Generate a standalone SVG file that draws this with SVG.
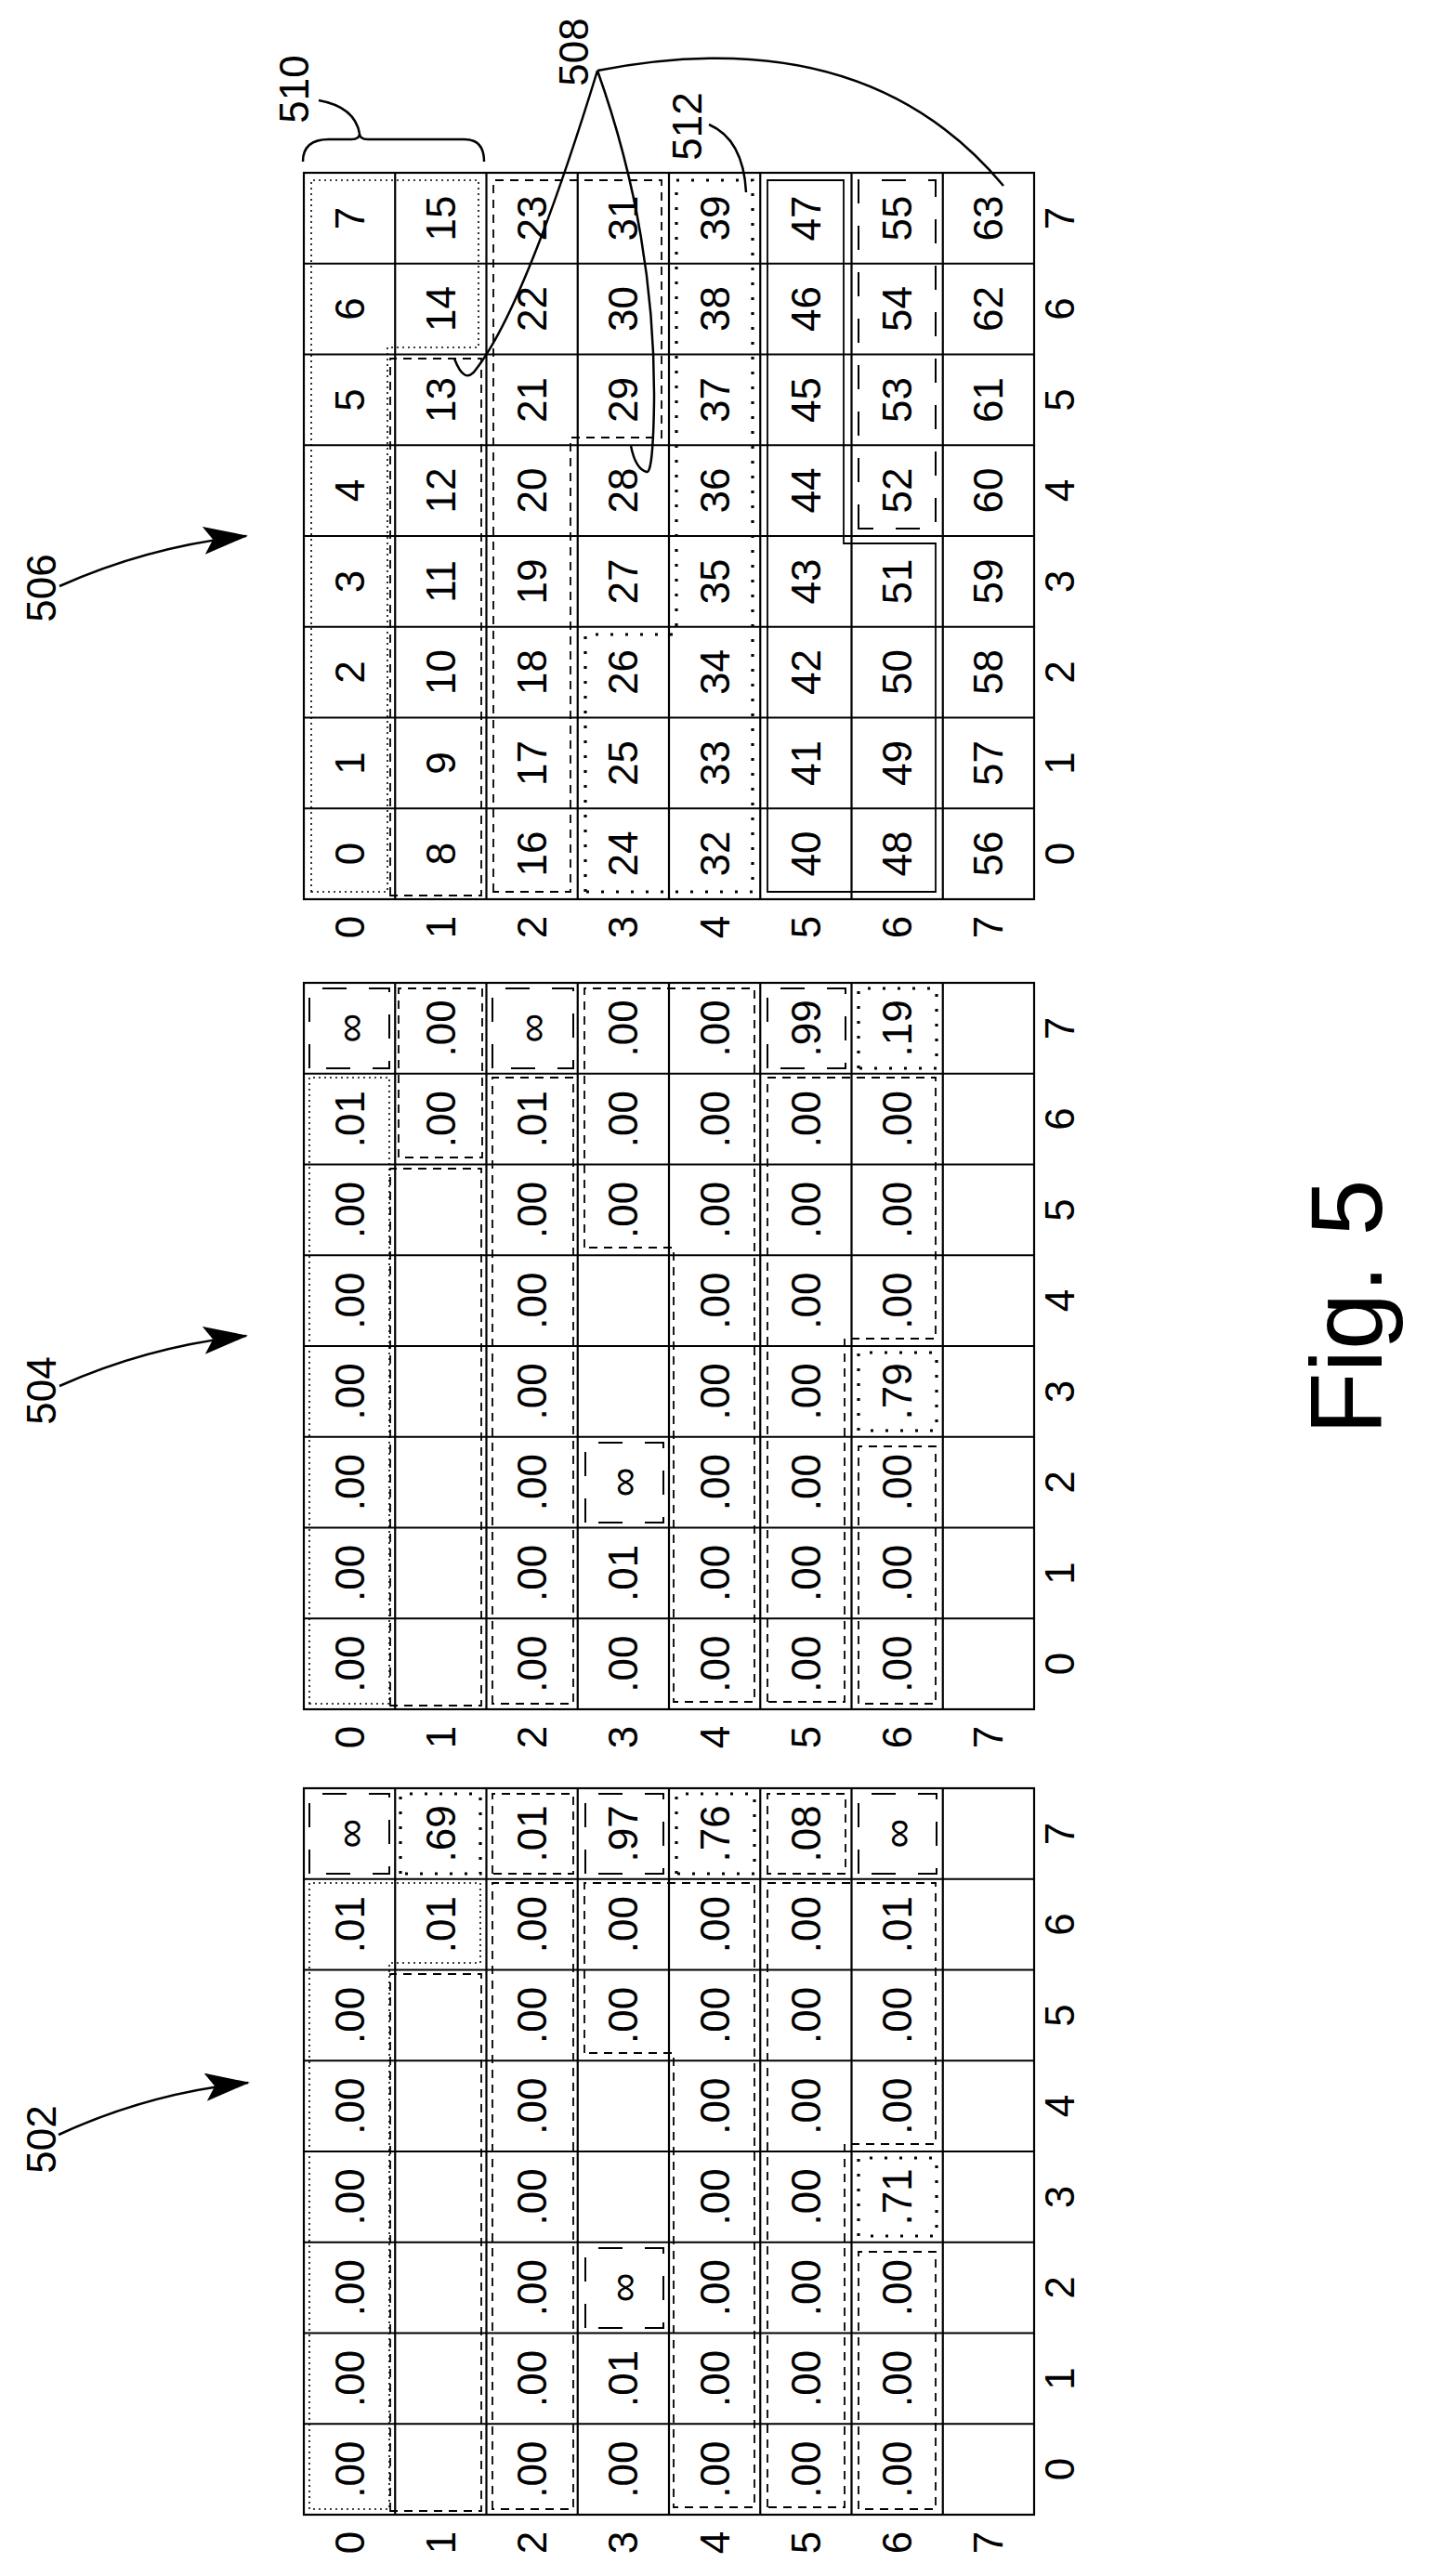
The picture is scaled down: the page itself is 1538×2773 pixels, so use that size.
<svg xmlns="http://www.w3.org/2000/svg" width="1538" height="2773" viewBox="0 0 1538 2773">
<style>
text{font-family:"Liberation Sans","DejaVu Sans",sans-serif;fill:#000}
.t{font-size:44px;text-anchor:middle;dominant-baseline:central}
.l{font-size:44px;text-anchor:middle;dominant-baseline:central}
.grid{fill:none;stroke:#000;stroke-width:2.2}
.o{fill:none;stroke:#000}
.dt{stroke-width:1.6;stroke-dasharray:2 4}
.dd{stroke-width:1.8;stroke-dasharray:9 7}
.dh{stroke-width:3.2;stroke-dasharray:3 13}
.ld{stroke-width:2;stroke-dasharray:26 24}
.sl{stroke-width:1.8}
.cn{fill:none;stroke:#000;stroke-width:2.5}
</style>
<defs>
<marker id="ah" viewBox="0 0 48 30" refX="46" refY="15" markerWidth="48" markerHeight="30" markerUnits="userSpaceOnUse" orient="auto">
<path d="M0,0 L48,15 L0,30 L10,15 Z" fill="#000"/>
</marker>
<g id="gridlines">
<rect x="0" y="0" width="782" height="786" class="grid"/>
<path class="grid" d="M97.75,0V786M195.5,0V786M293.25,0V786M391,0V786M488.75,0V786M586.5,0V786M684.25,0V786M0,98.25H782M0,196.5H782M0,294.75H782M0,393H782M0,491.25H782M0,589.5H782M0,687.75H782"/>
</g>
<g id="labels">
<text class="l" x="48.9" y="813">0</text><text class="l" x="146.6" y="813">1</text><text class="l" x="244.4" y="813">2</text><text class="l" x="342.1" y="813">3</text><text class="l" x="439.9" y="813">4</text><text class="l" x="537.6" y="813">5</text><text class="l" x="635.4" y="813">6</text><text class="l" x="733.1" y="813">7</text>
<text class="l" x="-30" y="49.1">0</text><text class="l" x="-30" y="147.4">1</text><text class="l" x="-30" y="245.6">2</text><text class="l" x="-30" y="343.9">3</text><text class="l" x="-30" y="442.1">4</text><text class="l" x="-30" y="540.4">5</text><text class="l" x="-30" y="638.6">6</text><text class="l" x="-30" y="736.9">7</text>
</g>
</defs>

<g id="grid506" transform="translate(327,968) rotate(-90)">
<use href="#gridlines"/><use href="#labels"/>
<polygon class="o dt" points="8,8 774,8 774,188 594,188 594,90 8,90"/>
<rect class="o dd" x="4" y="93" width="578" height="98"/>
<polygon class="o dd" points="8,204 774,204 774,385 497,385 497,287 8,287"/>
<polygon class="o dh" points="8,303 285,303 285,401 774,401 774,483 8,483"/>
<polygon class="o sl" points="8,499 774,499 774,581 383,581 383,680 8,680"/>
<rect class="o ld" x="399" y="597" width="375" height="83"/>
<text class="t" x="48.9" y="49.1">0</text><text class="t" x="146.6" y="49.1">1</text><text class="t" x="244.4" y="49.1">2</text><text class="t" x="342.1" y="49.1">3</text><text class="t" x="439.9" y="49.1">4</text><text class="t" x="537.6" y="49.1">5</text><text class="t" x="635.4" y="49.1">6</text><text class="t" x="733.1" y="49.1">7</text>
<text class="t" x="48.9" y="147.4">8</text><text class="t" x="146.6" y="147.4">9</text><text class="t" x="244.4" y="147.4">10</text><text class="t" x="342.1" y="147.4">11</text><text class="t" x="439.9" y="147.4">12</text><text class="t" x="537.6" y="147.4">13</text><text class="t" x="635.4" y="147.4">14</text><text class="t" x="733.1" y="147.4">15</text>
<text class="t" x="48.9" y="245.6">16</text><text class="t" x="146.6" y="245.6">17</text><text class="t" x="244.4" y="245.6">18</text><text class="t" x="342.1" y="245.6">19</text><text class="t" x="439.9" y="245.6">20</text><text class="t" x="537.6" y="245.6">21</text><text class="t" x="635.4" y="245.6">22</text><text class="t" x="733.1" y="245.6">23</text>
<text class="t" x="48.9" y="343.9">24</text><text class="t" x="146.6" y="343.9">25</text><text class="t" x="244.4" y="343.9">26</text><text class="t" x="342.1" y="343.9">27</text><text class="t" x="439.9" y="343.9">28</text><text class="t" x="537.6" y="343.9">29</text><text class="t" x="635.4" y="343.9">30</text><text class="t" x="733.1" y="343.9">31</text>
<text class="t" x="48.9" y="442.1">32</text><text class="t" x="146.6" y="442.1">33</text><text class="t" x="244.4" y="442.1">34</text><text class="t" x="342.1" y="442.1">35</text><text class="t" x="439.9" y="442.1">36</text><text class="t" x="537.6" y="442.1">37</text><text class="t" x="635.4" y="442.1">38</text><text class="t" x="733.1" y="442.1">39</text>
<text class="t" x="48.9" y="540.4">40</text><text class="t" x="146.6" y="540.4">41</text><text class="t" x="244.4" y="540.4">42</text><text class="t" x="342.1" y="540.4">43</text><text class="t" x="439.9" y="540.4">44</text><text class="t" x="537.6" y="540.4">45</text><text class="t" x="635.4" y="540.4">46</text><text class="t" x="733.1" y="540.4">47</text>
<text class="t" x="48.9" y="638.6">48</text><text class="t" x="146.6" y="638.6">49</text><text class="t" x="244.4" y="638.6">50</text><text class="t" x="342.1" y="638.6">51</text><text class="t" x="439.9" y="638.6">52</text><text class="t" x="537.6" y="638.6">53</text><text class="t" x="635.4" y="638.6">54</text><text class="t" x="733.1" y="638.6">55</text>
<text class="t" x="48.9" y="736.9">56</text><text class="t" x="146.6" y="736.9">57</text><text class="t" x="244.4" y="736.9">58</text><text class="t" x="342.1" y="736.9">59</text><text class="t" x="439.9" y="736.9">60</text><text class="t" x="537.6" y="736.9">61</text><text class="t" x="635.4" y="736.9">62</text><text class="t" x="733.1" y="736.9">63</text>
</g>

<g id="grid504" transform="translate(327,1840) rotate(-90)">
<use href="#gridlines"/><use href="#labels"/>
<rect class="o dt" x="6" y="6" width="674" height="86"/>
<rect class="o ld" x="690" y="6" width="86" height="86"/>
<rect class="o dd" x="4" y="93" width="578" height="98"/>
<rect class="o dd" x="594" y="102" width="182" height="90"/>
<rect class="o dd" x="6" y="203" width="674" height="87"/>
<rect class="o ld" x="690" y="203" width="86" height="87"/>
<rect class="o ld" x="201" y="303" width="86" height="84"/>
<polygon class="o dd" points="497,302 776,302 776,485 8,485 8,398 497,398"/>
<rect class="o ld" x="690" y="499" width="86" height="84"/>
<polygon class="o dd" points="8,499 680,499 680,680 399,680 399,582 8,582"/>
<rect class="o dd" x="6" y="597" width="277" height="83"/>
<rect class="o dh" x="300" y="597" width="84" height="84"/>
<rect class="o dh" x="690" y="597" width="86" height="84"/>
<text class="t" x="48.9" y="49.1">.00</text><text class="t" x="146.6" y="49.1">.00</text><text class="t" x="244.4" y="49.1">.00</text><text class="t" x="342.1" y="49.1">.00</text><text class="t" x="439.9" y="49.1">.00</text><text class="t" x="537.6" y="49.1">.00</text><text class="t" x="635.4" y="49.1">.01</text><text class="t" x="733.1" y="49.1">∞</text>
<text class="t" x="635.4" y="147.4">.00</text><text class="t" x="733.1" y="147.4">.00</text>
<text class="t" x="48.9" y="245.6">.00</text><text class="t" x="146.6" y="245.6">.00</text><text class="t" x="244.4" y="245.6">.00</text><text class="t" x="342.1" y="245.6">.00</text><text class="t" x="439.9" y="245.6">.00</text><text class="t" x="537.6" y="245.6">.00</text><text class="t" x="635.4" y="245.6">.01</text><text class="t" x="733.1" y="245.6">∞</text>
<text class="t" x="48.9" y="343.9">.00</text><text class="t" x="146.6" y="343.9">.01</text><text class="t" x="244.4" y="343.9">∞</text><text class="t" x="537.6" y="343.9">.00</text><text class="t" x="635.4" y="343.9">.00</text><text class="t" x="733.1" y="343.9">.00</text>
<text class="t" x="48.9" y="442.1">.00</text><text class="t" x="146.6" y="442.1">.00</text><text class="t" x="244.4" y="442.1">.00</text><text class="t" x="342.1" y="442.1">.00</text><text class="t" x="439.9" y="442.1">.00</text><text class="t" x="537.6" y="442.1">.00</text><text class="t" x="635.4" y="442.1">.00</text><text class="t" x="733.1" y="442.1">.00</text>
<text class="t" x="48.9" y="540.4">.00</text><text class="t" x="146.6" y="540.4">.00</text><text class="t" x="244.4" y="540.4">.00</text><text class="t" x="342.1" y="540.4">.00</text><text class="t" x="439.9" y="540.4">.00</text><text class="t" x="537.6" y="540.4">.00</text><text class="t" x="635.4" y="540.4">.00</text><text class="t" x="733.1" y="540.4">.99</text>
<text class="t" x="48.9" y="638.6">.00</text><text class="t" x="146.6" y="638.6">.00</text><text class="t" x="244.4" y="638.6">.00</text><text class="t" x="342.1" y="638.6">.79</text><text class="t" x="439.9" y="638.6">.00</text><text class="t" x="537.6" y="638.6">.00</text><text class="t" x="635.4" y="638.6">.00</text><text class="t" x="733.1" y="638.6">.19</text>
</g>

<g id="grid502" transform="translate(327,2707) rotate(-90)">
<use href="#gridlines"/><use href="#labels"/>
<polygon class="o dt" points="6,6 680,6 680,190 594,190 594,92 6,92"/>
<rect class="o ld" x="690" y="6" width="86" height="86"/>
<rect class="o dd" x="4" y="93" width="578" height="98"/>
<rect class="o dh" x="690" y="104" width="86" height="86"/>
<rect class="o dd" x="6" y="203" width="674" height="87"/>
<rect class="o dd" x="690" y="203" width="86" height="87"/>
<rect class="o ld" x="690" y="303" width="86" height="84"/>
<rect class="o ld" x="201" y="303" width="86" height="84"/>
<polygon class="o dd" points="497,302 680,302 680,485 8,485 8,398 497,398"/>
<rect class="o dh" x="690" y="401" width="86" height="84"/>
<rect class="o dd" x="690" y="499" width="86" height="84"/>
<polygon class="o dd" points="8,499 680,499 680,680 399,680 399,582 8,582"/>
<rect class="o dd" x="6" y="597" width="277" height="83"/>
<rect class="o dh" x="300" y="597" width="84" height="84"/>
<rect class="o ld" x="690" y="597" width="86" height="84"/>
<text class="t" x="48.9" y="49.1">.00</text><text class="t" x="146.6" y="49.1">.00</text><text class="t" x="244.4" y="49.1">.00</text><text class="t" x="342.1" y="49.1">.00</text><text class="t" x="439.9" y="49.1">.00</text><text class="t" x="537.6" y="49.1">.00</text><text class="t" x="635.4" y="49.1">.01</text><text class="t" x="733.1" y="49.1">∞</text>
<text class="t" x="635.4" y="147.4">.01</text><text class="t" x="733.1" y="147.4">.69</text>
<text class="t" x="48.9" y="245.6">.00</text><text class="t" x="146.6" y="245.6">.00</text><text class="t" x="244.4" y="245.6">.00</text><text class="t" x="342.1" y="245.6">.00</text><text class="t" x="439.9" y="245.6">.00</text><text class="t" x="537.6" y="245.6">.00</text><text class="t" x="635.4" y="245.6">.00</text><text class="t" x="733.1" y="245.6">.01</text>
<text class="t" x="48.9" y="343.9">.00</text><text class="t" x="146.6" y="343.9">.01</text><text class="t" x="244.4" y="343.9">∞</text><text class="t" x="537.6" y="343.9">.00</text><text class="t" x="635.4" y="343.9">.00</text><text class="t" x="733.1" y="343.9">.97</text>
<text class="t" x="48.9" y="442.1">.00</text><text class="t" x="146.6" y="442.1">.00</text><text class="t" x="244.4" y="442.1">.00</text><text class="t" x="342.1" y="442.1">.00</text><text class="t" x="439.9" y="442.1">.00</text><text class="t" x="537.6" y="442.1">.00</text><text class="t" x="635.4" y="442.1">.00</text><text class="t" x="733.1" y="442.1">.76</text>
<text class="t" x="48.9" y="540.4">.00</text><text class="t" x="146.6" y="540.4">.00</text><text class="t" x="244.4" y="540.4">.00</text><text class="t" x="342.1" y="540.4">.00</text><text class="t" x="439.9" y="540.4">.00</text><text class="t" x="537.6" y="540.4">.00</text><text class="t" x="635.4" y="540.4">.00</text><text class="t" x="733.1" y="540.4">.08</text>
<text class="t" x="48.9" y="638.6">.00</text><text class="t" x="146.6" y="638.6">.00</text><text class="t" x="244.4" y="638.6">.00</text><text class="t" x="342.1" y="638.6">.71</text><text class="t" x="439.9" y="638.6">.00</text><text class="t" x="537.6" y="638.6">.00</text><text class="t" x="635.4" y="638.6">.01</text><text class="t" x="733.1" y="638.6">∞</text>
</g>

<g id="refs">
<text class="l" transform="translate(44,633) rotate(-90)">506</text>
<text class="l" transform="translate(44,1497) rotate(-90)">504</text>
<text class="l" transform="translate(44,2303) rotate(-90)">502</text>
<text class="l" transform="translate(617,56) rotate(-90)">508</text>
<text class="l" transform="translate(316,96) rotate(-90)">510</text>
<text class="l" transform="translate(739,136) rotate(-90)">512</text>
<text transform="translate(1487,1407) rotate(-90)" style="font-size:110px;text-anchor:middle">Fig. 5</text>
</g>

<g id="connectors">
<path class="cn" d="M64,631 Q160,588 265,577" marker-end="url(#ah)"/>
<path class="cn" d="M64,1492 Q160,1449 265,1438" marker-end="url(#ah)"/>
<path class="cn" d="M63,2298 Q160,2253 267,2242" marker-end="url(#ah)"/>
<path class="cn" d="M326,174 Q326,150 354,150 L378,150 Q387,150 387,144 Q387,150 396,150 L500,150 Q521,150 521,174"/>
<path class="cn" d="M387,144 Q382,115 343,108"/>
<path class="cn" d="M763,134 Q800,150 803,207"/>
<path class="cn" d="M643,76 Q565,330 512,398 Q500,415 489,386"/>
<path class="cn" d="M643,76 Q705,250 704,430 Q703,510 696,508 Q684,505 679,480"/>
<path class="cn" d="M643,76 Q930,20 1080,200"/>
</g>
</svg>
